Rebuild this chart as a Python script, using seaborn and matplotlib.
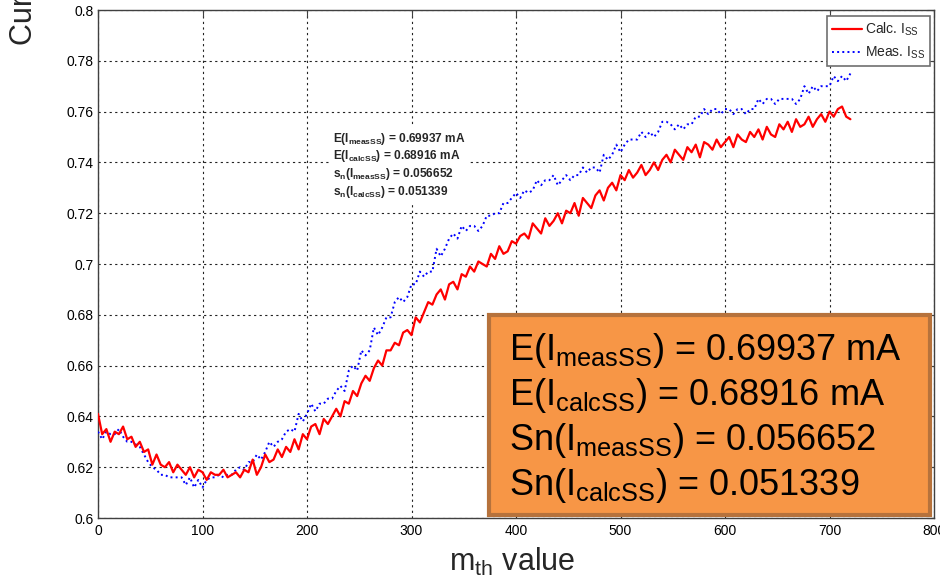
import numpy as np
import pandas as pd
import matplotlib
matplotlib.use("Agg")
import matplotlib.pyplot as plt
from matplotlib.patches import Rectangle
import seaborn as sns

# ---------------- data ----------------
m_th = np.arange(0, 721, 4)

calc_iss = [
    0.641, 0.633, 0.635, 0.630, 0.634, 0.633, 0.636, 0.631, 0.632, 0.628,
    0.630, 0.626, 0.627, 0.621, 0.625, 0.621, 0.620, 0.622, 0.618, 0.621,
    0.619, 0.617, 0.620, 0.616, 0.619, 0.618, 0.615, 0.618, 0.617, 0.617,
    0.619, 0.616, 0.617, 0.618, 0.616, 0.619, 0.618, 0.623, 0.617, 0.620,
    0.625, 0.622, 0.623, 0.627, 0.624, 0.628, 0.626, 0.631, 0.627, 0.633,
    0.631, 0.636, 0.637, 0.633, 0.639, 0.637, 0.640, 0.643, 0.640, 0.646,
    0.645, 0.650, 0.648, 0.653, 0.656, 0.654, 0.659, 0.662, 0.660, 0.666,
    0.666, 0.669, 0.668, 0.673, 0.674, 0.672, 0.679, 0.677, 0.681, 0.685,
    0.684, 0.688, 0.690, 0.686, 0.692, 0.693, 0.690, 0.696, 0.695, 0.699,
    0.697, 0.701, 0.700, 0.699, 0.704, 0.702, 0.707, 0.704, 0.705, 0.709,
    0.708, 0.711, 0.712, 0.710, 0.716, 0.714, 0.712, 0.718, 0.715, 0.717,
    0.720, 0.716, 0.721, 0.720, 0.724, 0.719, 0.726, 0.724, 0.722, 0.727,
    0.729, 0.725, 0.730, 0.732, 0.729, 0.735, 0.733, 0.737, 0.734, 0.736,
    0.739, 0.735, 0.737, 0.740, 0.737, 0.741, 0.743, 0.740, 0.745, 0.743,
    0.741, 0.746, 0.744, 0.747, 0.742, 0.748, 0.747, 0.745, 0.749, 0.746,
    0.748, 0.750, 0.746, 0.751, 0.749, 0.748, 0.752, 0.750, 0.753, 0.749,
    0.754, 0.751, 0.750, 0.755, 0.753, 0.756, 0.752, 0.757, 0.754, 0.755,
    0.758, 0.754, 0.757, 0.759, 0.756, 0.760, 0.758, 0.761, 0.762, 0.758,
    0.757,
]

meas_iss = [
    0.634, 0.631, 0.634, 0.633, 0.633, 0.635, 0.632, 0.630, 0.630, 0.629,
    0.628, 0.625, 0.622, 0.620, 0.619, 0.617, 0.617, 0.616, 0.616, 0.616,
    0.616, 0.613, 0.616, 0.612, 0.615, 0.612, 0.615, 0.616, 0.616, 0.617,
    0.616, 0.617, 0.617, 0.619, 0.620, 0.619, 0.622, 0.622, 0.625, 0.623,
    0.626, 0.630, 0.628, 0.630, 0.631, 0.634, 0.635, 0.634, 0.641, 0.638,
    0.641, 0.645, 0.642, 0.645, 0.645, 0.647, 0.647, 0.650, 0.652, 0.650,
    0.658, 0.660, 0.658, 0.666, 0.664, 0.666, 0.675, 0.672, 0.675, 0.679,
    0.679, 0.685, 0.687, 0.685, 0.687, 0.692, 0.692, 0.697, 0.695, 0.697,
    0.697, 0.706, 0.703, 0.706, 0.710, 0.712, 0.710, 0.715, 0.713, 0.715,
    0.715, 0.713, 0.715, 0.719, 0.719, 0.720, 0.720, 0.724, 0.724, 0.726,
    0.728, 0.726, 0.729, 0.728, 0.729, 0.733, 0.731, 0.733, 0.733, 0.735,
    0.731, 0.733, 0.735, 0.733, 0.735, 0.735, 0.738, 0.736, 0.738, 0.738,
    0.736, 0.743, 0.741, 0.743, 0.747, 0.744, 0.747, 0.749, 0.749, 0.749,
    0.752, 0.750, 0.752, 0.750, 0.752, 0.756, 0.756, 0.755, 0.753, 0.755,
    0.753, 0.755, 0.755, 0.758, 0.758, 0.761, 0.759, 0.761, 0.761, 0.759,
    0.761, 0.761, 0.759, 0.761, 0.761, 0.759, 0.761, 0.761, 0.765, 0.763,
    0.765, 0.765, 0.763, 0.765, 0.765, 0.765, 0.765, 0.763, 0.765, 0.770,
    0.767, 0.770, 0.768, 0.770, 0.770, 0.770, 0.774, 0.772, 0.774, 0.772,
    0.775,
]

x_ticks = [0, 100, 200, 300, 400, 500, 600, 700, 800]
y_ticks = [0.6, 0.62, 0.64, 0.66, 0.68, 0.7, 0.72, 0.74, 0.76, 0.78, 0.8]
y_tick_labels = ["0.6", "0.62", "0.64", "0.66", "0.68", "0.7", "0.72",
                 "0.74", "0.76", "0.78", "0.8"]

stats_small = [
    r"E(I$_{\mathdefault{measSS}}$) = 0.69937 mA",
    r"E(I$_{\mathdefault{calcSS}}$) = 0.68916 mA",
    r"s$_{\mathdefault{n}}$(I$_{\mathdefault{measSS}}$) = 0.056652",
    r"s$_{\mathdefault{n}}$(I$_{\mathdefault{calcSS}}$) = 0.051339",
]
stats_big = [
    r"E(I$_{\mathdefault{measSS}}$) = 0.69937 mA",
    r"E(I$_{\mathdefault{calcSS}}$) = 0.68916 mA",
    r"Sn(I$_{\mathdefault{measSS}}$) = 0.056652",
    r"Sn(I$_{\mathdefault{calcSS}}$) = 0.051339",
]

df = pd.DataFrame({"m": m_th, "calc": calc_iss, "meas": meas_iss})

# ---------------- style ----------------
sns.set_style("white")
plt.rcParams["font.family"] = ["Liberation Sans", "DejaVu Sans"]
plt.rcParams["mathtext.fontset"] = "custom"
plt.rcParams["mathtext.rm"] = "Liberation Sans"
plt.rcParams["mathtext.it"] = "Liberation Sans:italic"
plt.rcParams["mathtext.bf"] = "Liberation Sans:bold"

W, H = 940, 581
fig = plt.figure(figsize=(W / 100, H / 100), dpi=100)
fig.patch.set_facecolor("white")
ax = fig.add_axes([98 / W, 63 / H, 836 / W, 508 / H])

sns.lineplot(data=df, x="m", y="meas", ax=ax, color="#0000ff",
             linestyle=":", linewidth=1.4, label="Meas. I$_{\\mathdefault{SS}}$",
             zorder=3)
sns.lineplot(data=df, x="m", y="calc", ax=ax, color="#ff0000",
             linestyle="-", linewidth=1.6, label="Calc. I$_{\\mathdefault{SS}}$",
             zorder=4)

ax.set_xlim(0, 800)
ax.set_ylim(0.6, 0.8)
ax.set_xticks(x_ticks)
ax.set_xticklabels([str(v) for v in x_ticks])
ax.set_yticks(y_ticks)
ax.set_yticklabels(y_tick_labels)
ax.set_xlabel("")
ax.set_ylabel("")

ax.grid(True, color="#222222", linestyle=(0, (2, 3)), linewidth=0.8)
ax.set_axisbelow(True)
for s in ax.spines.values():
    s.set_color("#404040")
    s.set_linewidth(1.0)
    s.set_visible(True)
ax.tick_params(axis="both", which="both", direction="in", length=5,
               width=0.8, color="#404040", top=True, right=True,
               labelsize=10, labelcolor="black")
ax.tick_params(axis="x", pad=4)
ax.tick_params(axis="y", pad=3)

# legend (Calc first)
handles, labels = ax.get_legend_handles_labels()
order = [1, 0]
leg = ax.legend([handles[i] for i in order], [labels[i] for i in order],
                loc="upper right", bbox_to_anchor=(930 / W, 1 - 16 / H),
                bbox_transform=fig.transFigure, borderaxespad=0,
                fontsize=10, frameon=True, fancybox=False, framealpha=1,
                edgecolor="#707070", handlelength=2.15, handletextpad=0.25,
                borderpad=0.35, labelspacing=0.45)
leg.get_frame().set_linewidth(1.2)
leg.set_zorder(10)

# small statistics text (white background)
ax.add_patch(Rectangle((330 / W, 1 - 203 / H), 140 / W, 76 / H,
                       transform=fig.transFigure, facecolor="white",
                       edgecolor="none", zorder=2, clip_on=False))
for i, t in enumerate(stats_small):
    fig.text(333 / W, 1 - (142 + 17.5 * i) / H, t, fontsize=8.6,
             fontweight="bold", ha="left", va="baseline", zorder=6)

# big orange box
ax.add_patch(Rectangle((489 / W, 1 - 515 / H), 441 / W, 200 / H,
                       transform=fig.transFigure, facecolor="#F79646",
                       edgecolor="#B6723C", linewidth=3.0, zorder=8,
                       clip_on=False))
for i, t in enumerate(stats_big):
    fig.text(509 / W, 1 - (360 + 45 * i) / H, t, fontsize=26,
             ha="left", va="baseline", color="black", zorder=9)

# axis labels (partially cut like the reference)
fig.text(24 / W, 1 - 45 / H, "Current [mA]", rotation=90, ha="center",
         va="bottom", fontsize=22)
fig.text(512 / W, 10 / H, "m$_{\\mathdefault{th}}$ value", ha="center",
         va="baseline", fontsize=22)

fig.savefig("out.png", dpi=100, facecolor="white")
